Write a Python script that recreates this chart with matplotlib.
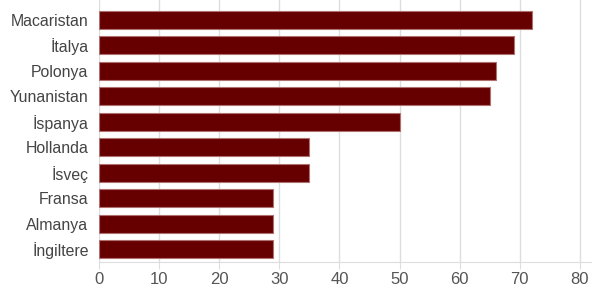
import matplotlib.pyplot as plt

countries = ['Macaristan', 'İtalya', 'Polonya', 'Yunanistan', 'İspanya',
             'Hollanda', 'İsveç', 'Fransa', 'Almanya', 'İngiltere']
values = [72, 69, 66, 65, 50, 35, 35, 29, 29, 29]
xticks = [0, 10, 20, 30, 40, 50, 60, 70, 80]

plt.rcParams['font.family'] = ['Liberation Sans', 'DejaVu Sans']

fig = plt.figure(figsize=(5.92, 2.96), dpi=100)
ax = fig.add_axes([99/592, 34/296, 1 - 99/592, 1 - 34/296])

pos = list(range(len(countries)))
ax.barh(pos, values, height=0.7, color='#660000',
        edgecolor='#b07070', linewidth=0.8, zorder=3)

ax.set_xlim(0, 82)
ax.set_ylim(9.5, -0.78)
ax.set_xticks(xticks)
ax.set_yticks(pos)
ax.set_yticklabels(countries)

ax.grid(axis='x', color='#dddddd', linewidth=1, zorder=0)
for s in ['top', 'right', 'left']:
    ax.spines[s].set_visible(False)
ax.spines['bottom'].set_color('#dddddd')
ax.tick_params(axis='x', colors='#dddddd', labelcolor='#555555',
               labelsize=12, length=5, pad=2)
ax.tick_params(axis='y', length=0, labelcolor='#444444', labelsize=11.4, pad=7.5)

fig.savefig('out.png', dpi=100)
